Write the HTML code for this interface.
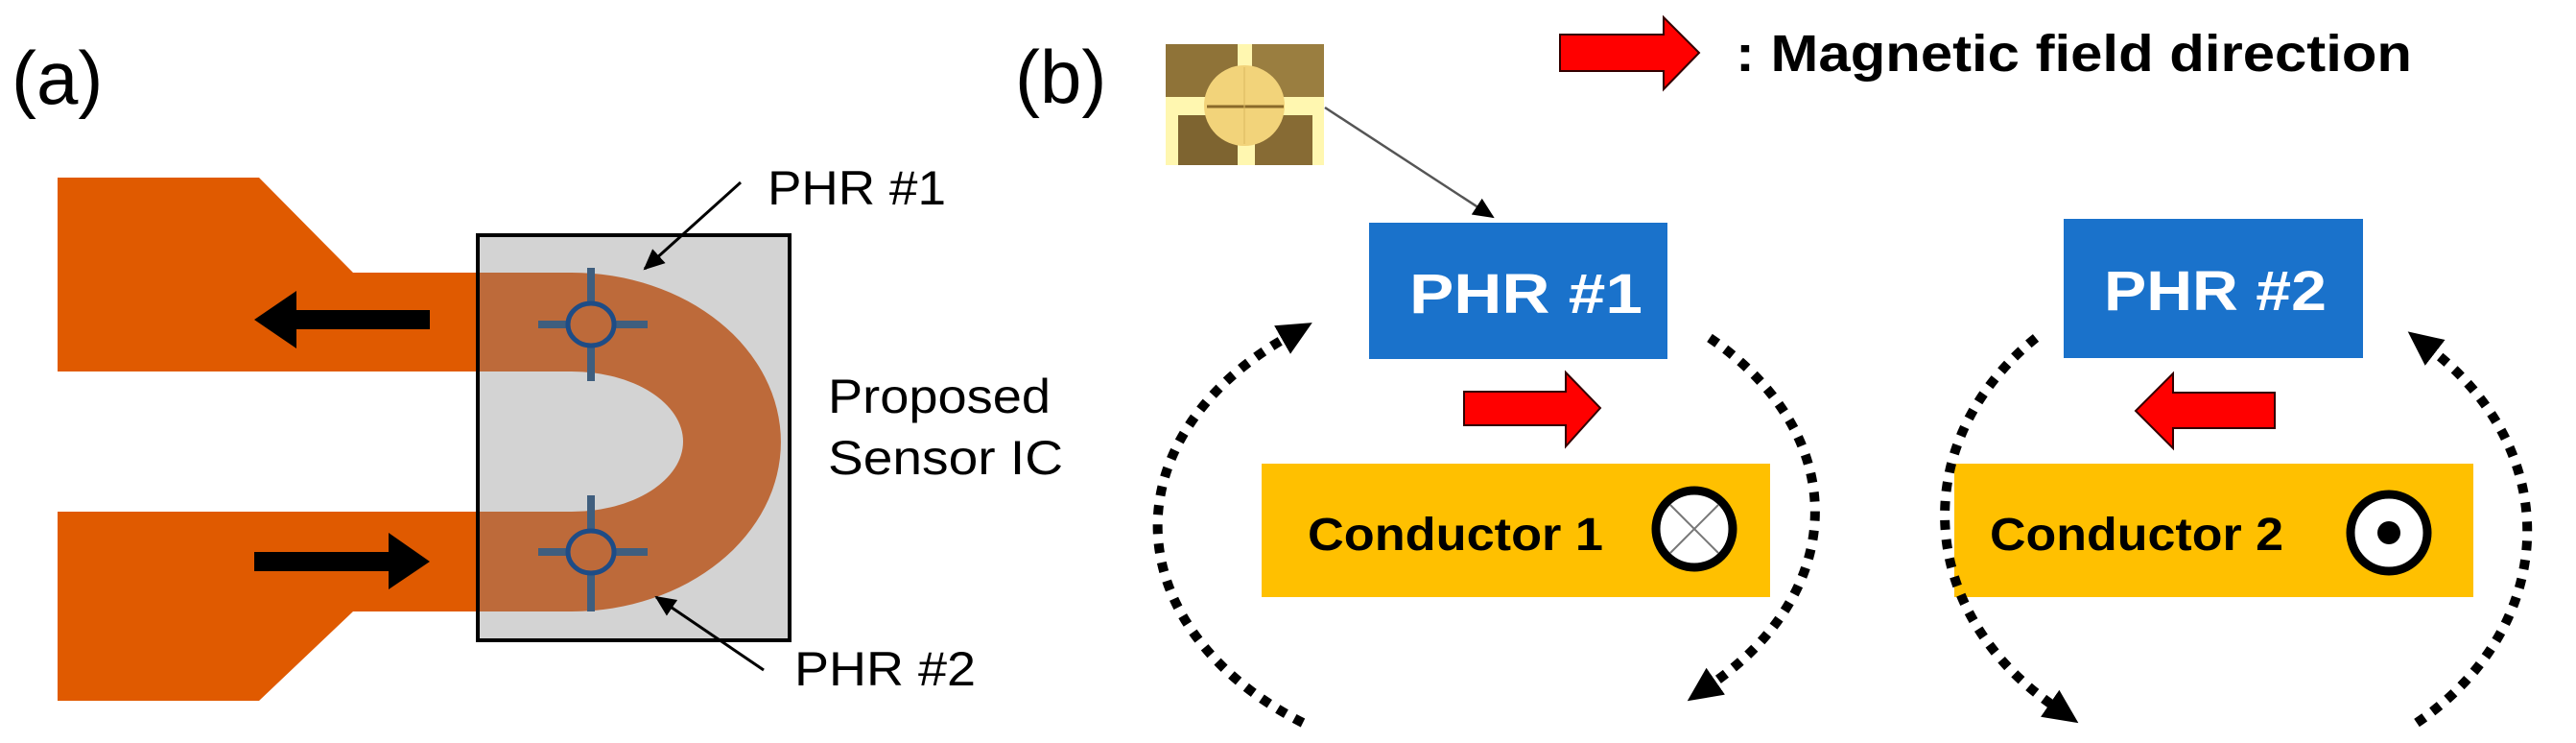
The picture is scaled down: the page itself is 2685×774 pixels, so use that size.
<!DOCTYPE html>
<html><head><meta charset="utf-8"><style>
html,body{margin:0;padding:0;background:#fff;}
svg{display:block;}
text{font-family:"Liberation Sans",Arial,sans-serif;}
</style></head><body>
<svg width="2685" height="774" viewBox="0 0 2685 774" xmlns="http://www.w3.org/2000/svg">
<defs>
<marker id="ah" markerUnits="userSpaceOnUse" markerWidth="40" markerHeight="40" refX="4" refY="17" orient="auto">
<path d="M0,0 L36,17 L0,34 Z" fill="#000"/>
</marker>
<marker id="sm" markerUnits="userSpaceOnUse" markerWidth="24" markerHeight="24" refX="20" refY="10" orient="auto">
<path d="M0,0 L22,10 L0,20 Z" fill="#000"/>
</marker>
</defs>

<!-- (a) -->
<text x="12" y="108" font-size="78">(a)</text>
<polygon points="60,185 270,185 368,284 498,284 498,387 60,387" fill="#e05a00"/>
<polygon points="60,533 498,533 498,637 368,637 270,730 60,730" fill="#e05a00"/>
<rect x="498" y="245" width="325" height="422" fill="#d3d3d3" stroke="#000" stroke-width="4"/>
<path d="M500,284 L596,284 A218,176.5 0 0 1 596,637 L500,637 L500,533 L596,533 A116,73 0 0 0 596,387 L500,387 Z" fill="#bd6a3a"/>
<polygon points="448,323 309,323 309,303 265,333 309,363 309,343 448,343" fill="#000"/>
<polygon points="265,575 405,575 405,555 448,585 405,614 405,595 265,595" fill="#000"/>
<g stroke="#3f5e7e" stroke-width="8" fill="none">
<line x1="561" y1="338" x2="675" y2="338"/><line x1="616" y1="279" x2="616" y2="397"/>
<line x1="561" y1="575" x2="675" y2="575"/><line x1="616" y1="516" x2="616" y2="637"/>
</g>
<ellipse cx="616" cy="338" rx="24" ry="22" fill="#bd6a3a" stroke="#1e4c86" stroke-width="5"/>
<ellipse cx="616" cy="575" rx="24" ry="22" fill="#bd6a3a" stroke="#1e4c86" stroke-width="5"/>
<line x1="772" y1="190" x2="672" y2="280" stroke="#000" stroke-width="3" marker-end="url(#sm)"/>
<line x1="796" y1="698" x2="684" y2="622" stroke="#000" stroke-width="3" marker-end="url(#sm)"/>
<text x="800" y="213" font-size="50" textLength="186" lengthAdjust="spacingAndGlyphs">PHR #1</text>
<text x="863" y="430" font-size="50" textLength="232" lengthAdjust="spacingAndGlyphs">Proposed</text>
<text x="863" y="494" font-size="50" textLength="245" lengthAdjust="spacingAndGlyphs">Sensor IC</text>
<text x="828" y="714" font-size="50" textLength="189" lengthAdjust="spacingAndGlyphs">PHR #2</text>

<!-- (b) -->
<text x="1058" y="107" font-size="78">(b)</text>
<rect x="1215" y="46" width="165" height="126" fill="#fff7b0"/>
<rect x="1215" y="46" width="75" height="55" fill="#8f7338"/>
<rect x="1305" y="46" width="75" height="55" fill="#9a7e40"/>
<rect x="1228" y="120" width="62" height="52" fill="#7e6430"/>
<rect x="1308" y="120" width="60" height="52" fill="#876b34"/>
<circle cx="1297" cy="110" r="42" fill="#f2d37a"/>
<line x1="1258" y1="111" x2="1338" y2="111" stroke="#8a6a2a" stroke-width="3"/>
<line x1="1297" y1="70" x2="1297" y2="150" stroke="#d9b860" stroke-width="1"/>
<line x1="1381" y1="112" x2="1556" y2="226" stroke="#555" stroke-width="2.5" marker-end="url(#sm)"/>

<polygon points="1626,36 1734,36 1734,18 1771,55 1734,93 1734,74 1626,74" fill="#f00" stroke="#300" stroke-width="2"/>
<text x="1809" y="74" font-size="54" font-weight="bold" textLength="705" lengthAdjust="spacingAndGlyphs">: Magnetic field direction</text>

<rect x="1427" y="232" width="311" height="142" fill="#1a72cb"/>
<text x="1469" y="326" font-size="58" font-weight="bold" fill="#fff" textLength="243" lengthAdjust="spacingAndGlyphs">PHR #1</text>
<rect x="2151" y="228" width="312" height="145" fill="#1a72cb"/>
<text x="2193" y="323" font-size="58" font-weight="bold" fill="#fff" textLength="232" lengthAdjust="spacingAndGlyphs">PHR #2</text>

<polygon points="1526,408 1632,408 1632,388 1668,425 1632,465 1632,443 1526,443" fill="#f00" stroke="#300" stroke-width="2"/>
<polygon points="2371,409 2265,409 2265,389 2226,428 2265,467 2265,446 2371,446" fill="#f00" stroke="#300" stroke-width="2"/>

<rect x="1315" y="483" width="530" height="139" fill="#ffc000"/>
<text x="1363" y="573" font-size="48" font-weight="bold" textLength="308" lengthAdjust="spacingAndGlyphs">Conductor 1</text>
<circle cx="1766" cy="551" r="40" fill="#fff" stroke="#000" stroke-width="9"/>
<line x1="1741" y1="526" x2="1791" y2="576" stroke="#777" stroke-width="2"/>
<line x1="1791" y1="526" x2="1741" y2="576" stroke="#777" stroke-width="2"/>
<rect x="2037" y="483" width="541" height="139" fill="#ffc000"/>
<text x="2074" y="573" font-size="48" font-weight="bold" textLength="306" lengthAdjust="spacingAndGlyphs">Conductor 2</text>
<circle cx="2490" cy="555" r="40" fill="#fff" stroke="#000" stroke-width="9"/>
<circle cx="2490" cy="555" r="12" fill="#000"/>

<g fill="none" stroke="#000" stroke-width="10" stroke-dasharray="10 10">
<path d="M1358,753 A368,254 0 0 1 1340,352" marker-end="url(#ah)"/>
<path d="M1782,352 A368,254 0 0 1 1785,712" marker-end="url(#ah)"/>
<path d="M2122,352 A320,260 0 0 0 2140,735" marker-end="url(#ah)"/>
<path d="M2519,753 A320,260 0 0 0 2535,365" marker-end="url(#ah)"/>
</g>
</svg>
</body></html>
